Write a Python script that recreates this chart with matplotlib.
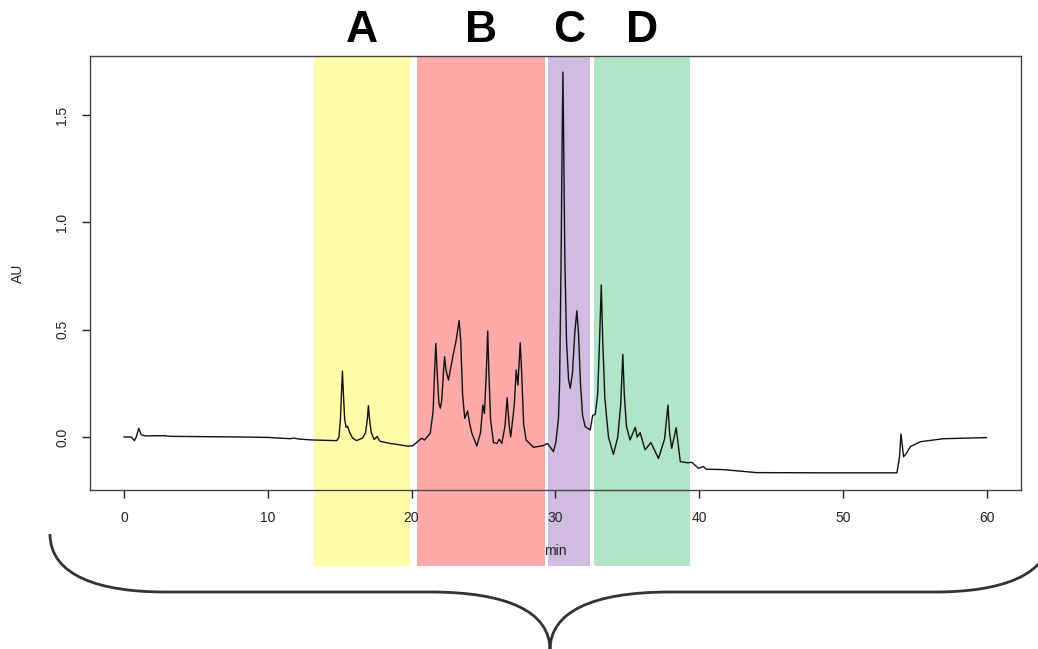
import matplotlib.pyplot as plt
from matplotlib.patches import Rectangle, PathPatch
from matplotlib.path import Path
import matplotlib.transforms as mtransforms

plt.rcParams['font.family'] = ['Liberation Sans', 'DejaVu Sans']

# chromatogram trace (min, AU)
minutes = [0, 0.5, 0.72, 0.85, 1.02, 1.2, 1.5, 2.78, 3.2, 5, 8.07, 10, 11.55, 11.8, 12.2,
           13.15, 14.8, 14.95, 15.05, 15.12, 15.19, 15.26, 15.35, 15.45, 15.55, 15.7, 15.9,
           16.17, 16.6, 16.8, 16.92, 17.0, 17.08, 17.2, 17.4, 17.6, 17.8, 18.5, 19.8, 20.1,
           20.7, 20.9, 21.3, 21.5, 21.6, 21.69, 21.78, 21.9, 22.0, 22.1, 22.22, 22.3, 22.4,
           22.57, 22.87, 23.1, 23.31, 23.42, 23.55, 23.7, 23.9, 24.05, 24.2, 24.54, 24.8,
           24.96, 25.07, 25.2, 25.3, 25.38, 25.5, 25.7, 25.95, 26.1, 26.28, 26.5, 26.65, 26.8,
           26.9, 27.15, 27.28, 27.4, 27.56, 27.66, 27.8, 27.97, 28.48, 29.18, 29.46, 29.87,
           30.05, 30.22, 30.3, 30.4, 30.48, 30.53, 30.58, 30.66, 30.78, 30.92, 31.04, 31.2,
           31.35, 31.5, 31.62, 31.75, 31.9, 32.08, 32.43, 32.6, 32.78, 32.95, 33.08, 33.2,
           33.3, 33.45, 33.7, 34.04, 34.35, 34.55, 34.7, 34.8, 34.95, 35.2, 35.56, 35.7, 35.9,
           36.25, 36.65, 37.18, 37.6, 37.84, 37.95, 38.1, 38.41, 38.7, 39.2, 39.5, 39.96,
           40.3, 40.5, 41.7, 44.0, 48.7, 53.77, 53.95, 54.05, 54.23, 54.4, 54.7, 55.4, 57.0,
           60]
au = [0.0, 0.0, -0.017, 0.0, 0.04, 0.01, 0.005, 0.006, 0.003, 0.002, 0.0, -0.002, -0.008,
      -0.005, -0.01,
      -0.014, -0.017, 0.0, 0.08, 0.2, 0.307, 0.2, 0.08, 0.045, 0.05, 0.02, -0.005,
      -0.017, -0.005, 0.02, 0.08, 0.146, 0.08, 0.02, -0.012, 0.002, -0.02, -0.03, -0.043,
      -0.04,
      -0.006, -0.014, 0.017, 0.12, 0.3, 0.436, 0.3, 0.16, 0.134, 0.17, 0.3, 0.374, 0.31,
      0.265, 0.374, 0.45, 0.542, 0.45, 0.2, 0.087, 0.121, 0.06, 0.017, -0.042, 0.02,
      0.149, 0.11, 0.3, 0.494, 0.3, 0.08, -0.026, -0.03, -0.01, -0.03, 0.05, 0.183, 0.05,
      0.0, 0.15, 0.312, 0.242, 0.439, 0.3, 0.06, -0.014, -0.048, -0.04, -0.03, -0.068,
      -0.02, 0.087, 0.25, 0.8, 1.4, 1.70, 1.4, 0.85, 0.45, 0.27, 0.227, 0.3,
      0.48, 0.588, 0.48, 0.25, 0.1, 0.048, 0.033, 0.10, 0.106, 0.2, 0.45, 0.708,
      0.45, 0.18, 0.0, -0.081, 0.0, 0.15, 0.385, 0.2, 0.05, -0.014, 0.045, 0.0, 0.02,
      -0.06, -0.026, -0.1, -0.01, 0.149, 0.02, -0.053, 0.043, -0.115, -0.12, -0.118, -0.146,
      -0.138, -0.15, -0.152, -0.166, -0.167, -0.167, -0.092, 0.014, -0.092, -0.079, -0.045,
      -0.022, -0.008,
      -0.003]

# fraction windows
band_labels = ['A', 'B', 'C', 'D']
band_start = [13.2, 20.4, 29.5, 32.7]
band_end = [19.9, 29.3, 32.4, 39.4]
band_colors = ['#fffcaa', '#feaaaa', '#d0bce0', '#b0e5c8']

W, H = 1038, 649
fig = plt.figure(figsize=(W / 100, H / 100), dpi=100)
ax = fig.add_axes([90 / W, 1 - 490 / H, (1021 - 90) / W, (490 - 56) / H])
ax.patch.set_alpha(0)

# colored windows, running below the axis down past the "min" label
trans = mtransforms.blended_transform_factory(ax.transData, ax.transAxes)
band_bottom = -(566 - 490) / (490 - 56)
for lab, s, e, c in zip(band_labels, band_start, band_end, band_colors):
    ax.add_patch(Rectangle((s, band_bottom), e - s, 1 - band_bottom, transform=trans,
                           facecolor=c, edgecolor='none', clip_on=False, zorder=0))
    ax.text((s + e) / 2, 1.0 + 25 / 434, lab, transform=trans, ha='center', va='center',
            fontsize=32, fontweight='bold', color='black')

ax.plot(minutes, au, color='#111111', lw=1.0, zorder=3)

ax.set_xlim(-2.37, 62.4)
ax.set_ylim(-0.247, 1.775)
ax.set_xticks([0, 10, 20, 30, 40, 50, 60])
ax.set_yticks([0.0, 0.5, 1.0, 1.5])
ax.set_yticklabels(['0.0', '0.5', '1.0', '1.5'], rotation=90, va='center')
ax.tick_params(direction='out', length=6, width=1, labelsize=10, color='#222222',
               labelcolor='#222222')
ax.tick_params(axis='x', pad=9)
ax.tick_params(axis='y', pad=9)
for sp in ax.spines.values():
    sp.set_color('#444444')
    sp.set_linewidth(1.0)
    sp.set_zorder(4)

ax.set_xlabel('min', fontsize=10, labelpad=14, color='#222222')
ax.set_ylabel('AU', fontsize=10, labelpad=22, color='#222222')

# curly brace under the chart (drawn in pixel coords of the image, y flipped)
def P(x, y):
    return (x / W, 1 - y / H)

verts = [P(50, 534), P(50, 576), P(100, 592), P(165, 592),
         P(430, 592),
         P(508, 592), P(550, 612), P(550, 650),
         P(550, 612), P(592, 592), P(670, 592),
         P(935, 592),
         P(1000, 592), P(1050, 576), P(1050, 534)]
codes = [Path.MOVETO, Path.CURVE4, Path.CURVE4, Path.CURVE4,
         Path.LINETO,
         Path.CURVE4, Path.CURVE4, Path.CURVE4,
         Path.CURVE4, Path.CURVE4, Path.CURVE4,
         Path.LINETO,
         Path.CURVE4, Path.CURVE4, Path.CURVE4]
fig.add_artist(PathPatch(Path(verts, codes), transform=fig.transFigure, facecolor='none',
                         edgecolor='#333333', lw=2.0))

fig.savefig('out.png', dpi=100)
